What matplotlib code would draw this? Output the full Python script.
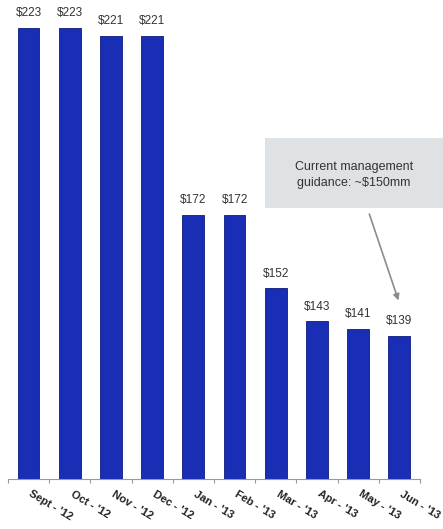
import matplotlib
matplotlib.use("Agg")
import matplotlib.pyplot as plt
import matplotlib.transforms as mtransforms
import numpy as np

plt.rcParams['font.family'] = ['Liberation Sans', 'DejaVu Sans']

months = ["Sept - '12", "Oct - '12", "Nov - '12", "Dec - '12", "Jan - '13",
          "Feb - '13", "Mar - '13", "Apr - '13", "May - '13", "Jun - '13"]
values = [223, 223, 221, 221, 172, 172, 152, 143, 141, 139]
guidance_note = "Current management\nguidance: ~$150mm"

fig = plt.figure(figsize=(4.43, 5.29), dpi=100)
ax = fig.add_axes([0.018, 0.0945, 0.93, 0.9055])

x = np.arange(len(values))
ax.bar(x, values, width=0.53, color='#1a2db5', edgecolor='#0c1a80',
       linewidth=0.6, zorder=2)

for xi, v in zip(x, values):
    ax.text(xi, v + 2.4, f"${v}", ha='center', va='bottom',
            fontsize=8.5, color='#333333')

ax.set_xlim(-0.5, 9.5)
ax.set_ylim(100, 230.7)

for side in ['top', 'right', 'left']:
    ax.spines[side].set_visible(False)
ax.spines['bottom'].set_color('#999999')
ax.spines['bottom'].set_linewidth(0.8)
ax.set_yticks([])

# category labels at bar centres, tick marks on the boundaries
ax.set_xticks(x)
ax.set_xticklabels(months, rotation=-31, ha='left', rotation_mode='anchor',
                   fontsize=8, fontweight='bold', color='#222222')
ax.tick_params(axis='x', which='major', length=0, pad=7)
shift = mtransforms.ScaledTranslation(4 / 100, 0, fig.dpi_scale_trans)
for lbl in ax.get_xticklabels():
    lbl.set_transform(lbl.get_transform() + shift)
ax.set_xticks(np.arange(-0.5, 10, 1), minor=True)
ax.tick_params(axis='x', which='minor', length=3, color='#999999', width=0.8)

# guidance call-out
ax.annotate('', xy=(9.0, 148), xytext=(8.25, 173),
            arrowprops=dict(arrowstyle='-|>', color='#8c8c8c', lw=1.2,
                            mutation_scale=9))
fig.patches.append(plt.Rectangle((265 / 443, 1 - 208 / 529), 178 / 443, 70 / 529,
                                 transform=fig.transFigure, facecolor='#dfe2e4',
                                 edgecolor='none', zorder=1))
fig.text(354 / 443, 1 - 175 / 529, guidance_note, ha='center', va='center',
         fontsize=9, color='#333333', linespacing=1.5)

fig.savefig('out.png', dpi=100)
